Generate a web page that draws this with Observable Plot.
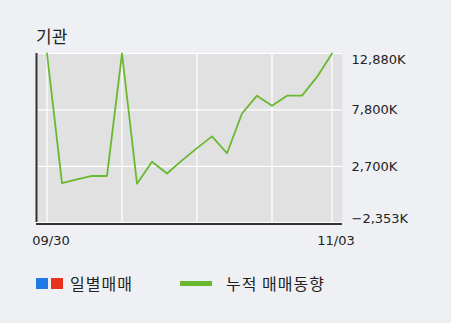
<!DOCTYPE html>
<html><head><meta charset="utf-8">
<script src="https://cdn.jsdelivr.net/npm/d3@7"></script>
<script src="https://cdn.jsdelivr.net/npm/@observablehq/plot@0.6"></script>
<style>
body{margin:0;background:#eef0f4;}
#wrap{position:relative;width:451px;height:323px;overflow:hidden;font-family:"Noto Sans CJK KR",sans-serif;}
#title{position:absolute;left:36px;top:25px;font-size:17px;line-height:22px;color:#222;}
#chart{position:absolute;left:0;top:0;}
.sw{position:absolute;top:278px;width:12px;height:11px;}
.lg{position:absolute;top:272px;font-size:16px;line-height:22px;color:#222;letter-spacing:1px;}
.ln{position:absolute;left:180px;top:281px;width:32px;height:5px;}
</style></head><body>
<div id="wrap">
<div id="chart"></div>
<div id="title">기관</div>
<div id="legend"></div>
</div>
<script>
const cumulative = [12880, 1200, 1530, 1840, 1840, 12880, 1140, 3120, 2060, 3250, 4350, 5410, 3890, 7470, 9080, 8170, 9080, 9080, 10770, 12880];
const yTickValues = [12880, 7800, 2700, -2353];
const yDomain = [-2353, 12880];
const xDomain = [-0.7, 19.7];
const gridIndex = [0, 5, 10, 15, 19];
const xTickIndex = [0, 19];
const xTickLabels = ["09/30", "11/03"];
const legendItems = [
  {label: "일별매매", colors: ["#1f7ae8", "#e8321f"]},
  {label: "누적 매매동향", colors: ["#6ab830"]}
];

const fmt = d => d3.format(",")(d) + "K";
const txt = {fontFamily: "DejaVu Sans", fontSize: 13, fill: "#222"};
const lineColor = legendItems[1].colors[0];

const chart = Plot.plot({
  width: 451, height: 260,
  marginTop: 53, marginBottom: 38, marginLeft: 36, marginRight: 109,
  style: {background: "transparent", overflow: "visible"},
  x: {type: "linear", domain: xDomain, axis: null},
  y: {domain: yDomain, axis: null},
  marks: [
    Plot.frame({fill: "#e1e1e1", stroke: "none"}),
    Plot.ruleY(yTickValues, {stroke: "#fff", strokeWidth: 1.2}),
    Plot.ruleX(gridIndex, {stroke: "#fff", strokeWidth: 1.2}),
    Plot.line(cumulative, {x: (d, i) => i, y: d => d, stroke: lineColor, strokeWidth: 1.8}),
    Plot.ruleX([xDomain[0]], {stroke: "#333", strokeWidth: 2, y1: yDomain[0], y2: yDomain[1]}),
    Plot.ruleY([yDomain[0]], {stroke: "#333", strokeWidth: 2, dy: 1.5}),
    Plot.text(yTickValues, {filter: (d, i) => i === 0, y: d => d, frameAnchor: "right", textAnchor: "start", lineAnchor: "top", dx: 9, dy: 1, text: fmt, ...txt}),
    Plot.text(yTickValues, {filter: (d, i) => i === 1 || i === 2, y: d => d, frameAnchor: "right", textAnchor: "start", lineAnchor: "middle", dx: 9, text: fmt, ...txt}),
    Plot.text(yTickValues, {filter: (d, i) => i === 3, y: d => d, frameAnchor: "right", textAnchor: "start", lineAnchor: "bottom", dx: 9, text: fmt, ...txt}),
    Plot.text(xTickIndex, {x: d => d, frameAnchor: "bottom", dy: 22, dx: 4, text: (d, i) => xTickLabels[i], ...txt})
  ]
});
document.getElementById("chart").appendChild(chart);

const lg = document.getElementById("legend");
// daily trades swatches
legendItems[0].colors.forEach((c, i) => {
  const s = document.createElement("div");
  s.className = "sw"; s.style.left = (36 + i * 15) + "px"; s.style.background = c;
  lg.appendChild(s);
});
const t1 = document.createElement("div");
t1.className = "lg"; t1.style.left = "70px"; t1.textContent = legendItems[0].label;
lg.appendChild(t1);
const l2 = document.createElement("div");
l2.className = "ln"; l2.style.background = legendItems[1].colors[0];
lg.appendChild(l2);
const t2 = document.createElement("div");
t2.className = "lg"; t2.style.left = "226px"; t2.textContent = legendItems[1].label;
lg.appendChild(t2);
</script>
</body></html>
